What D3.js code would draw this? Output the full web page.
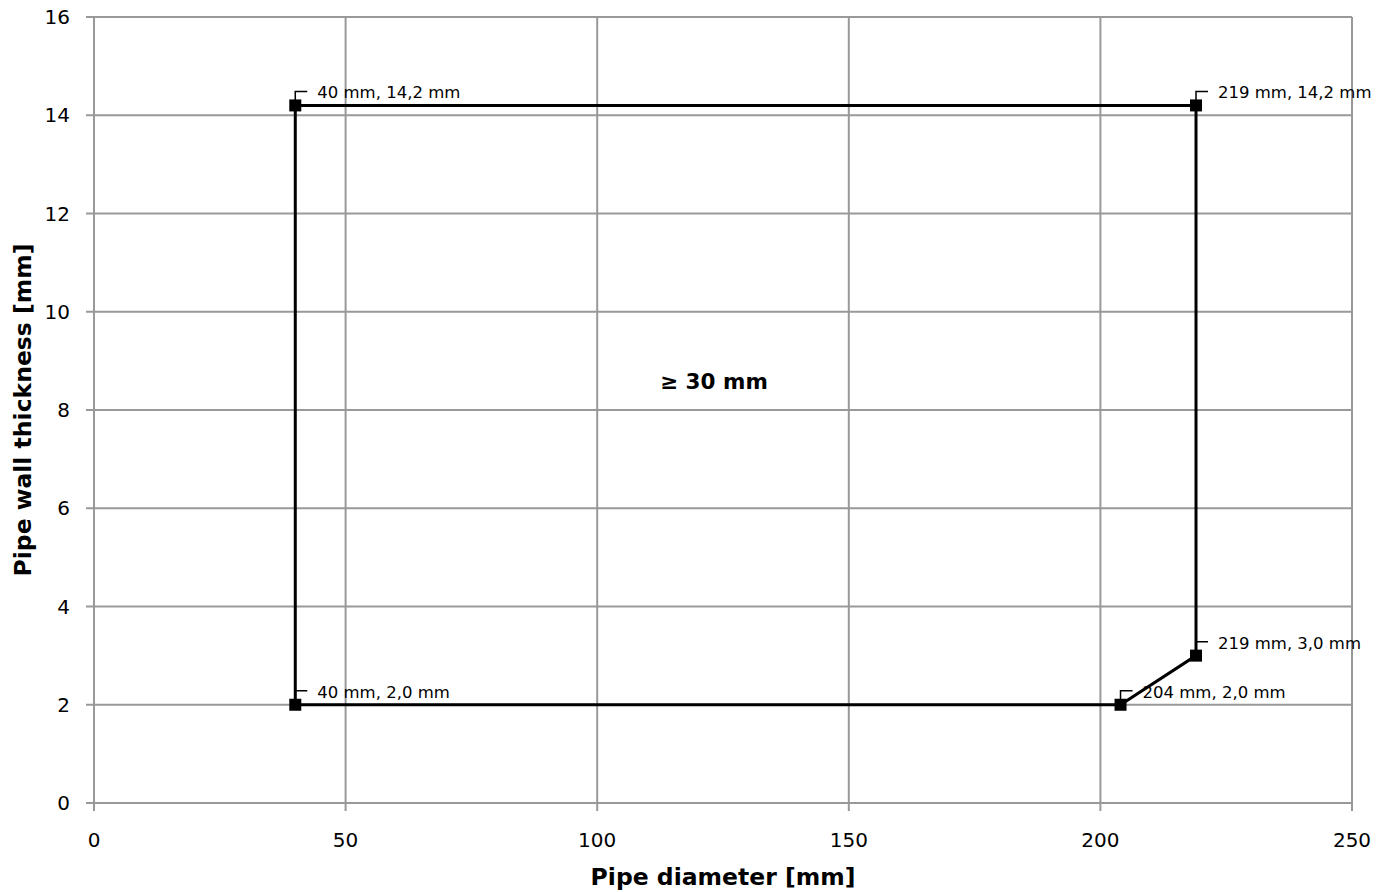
<!DOCTYPE html>
<html><head><meta charset="utf-8">
<script src="https://cdn.jsdelivr.net/npm/d3@7"></script>
<style>body{margin:0;background:#fff}svg{display:block}</style>
</head><body>
<svg id="c" width="1390" height="892"></svg>
<script>
const diameters = [40, 40, 219, 219, 204, 40];
const thicknesses = [2.0, 14.2, 14.2, 3.0, 2.0, 2.0];
const pointLabels = ["40 mm, 2,0 mm", "40 mm, 14,2 mm", "219 mm, 14,2 mm", "219 mm, 3,0 mm", "204 mm, 2,0 mm"];
const xTicks = [0, 50, 100, 150, 200, 250];
const yTicks = [0, 2, 4, 6, 8, 10, 12, 14, 16];
const regionNote = {text: "≥ 30 mm", x: 123.2, y: 8.6};
const xTitle = "Pipe diameter [mm]";
const yTitle = "Pipe wall thickness [mm]";

const font = "'DejaVu Sans', Verdana, sans-serif";
const svg = d3.select("#c");
const L = 94, R = 1352, T = 17, B = 803;
const x = d3.scaleLinear().domain([0, 250]).range([L, R]);
const y = d3.scaleLinear().domain([0, 16]).range([B, T]);
const grid = "#999";

const g = svg.append("g");
g.selectAll(".gx").data(xTicks).enter().append("line")
  .attr("x1", d => x(d)).attr("x2", d => x(d)).attr("y1", T).attr("y2", B + 8)
  .attr("stroke", grid).attr("stroke-width", 2);
g.selectAll(".gy").data(yTicks).enter().append("line")
  .attr("x1", L - 8).attr("x2", R).attr("y1", d => y(d)).attr("y2", d => y(d))
  .attr("stroke", grid).attr("stroke-width", 2);

g.selectAll(".tx").data(xTicks).enter().append("text")
  .attr("x", d => x(d)).attr("y", 847).attr("text-anchor", "middle")
  .attr("font-family", font).attr("font-size", 20).attr("fill", "#000").text(d => d);
g.selectAll(".ty").data(yTicks).enter().append("text")
  .attr("x", 70).attr("y", d => y(d) + 7).attr("text-anchor", "end")
  .attr("font-family", font).attr("font-size", 20).attr("fill", "#000").text(d => d);

svg.append("text").attr("x", x(125)).attr("y", 885).attr("text-anchor", "middle")
  .attr("font-family", font).attr("font-weight", "bold").attr("font-size", 23.5).text(xTitle);
svg.append("text").attr("transform", `translate(31,${(T + B) / 2}) rotate(-90)`).attr("text-anchor", "middle")
  .attr("font-family", font).attr("font-weight", "bold").attr("font-size", 23.5).text(yTitle);

const pts = diameters.map((d, i) => [d, thicknesses[i]]);
const line = d3.line().x(d => x(d[0])).y(d => y(d[1]));
svg.append("path").attr("d", line(pts)).attr("fill", "none")
  .attr("stroke", "#000").attr("stroke-width", 3).attr("stroke-linejoin", "miter");

const uniq = pts.slice(0, 5);
svg.selectAll(".m").data(uniq).enter().append("rect")
  .attr("x", d => x(d[0]) - 6).attr("y", d => y(d[1]) - 6)
  .attr("width", 12).attr("height", 12).attr("fill", "#000");

uniq.forEach((d, i) => {
  const px = x(d[0]), py = y(d[1]);
  svg.append("path").attr("d", `M${px},${py} V${py - 14} H${px + 12}`)
    .attr("fill", "none").attr("stroke", "#000").attr("stroke-width", 1.5);
  svg.append("text").attr("x", px + 22).attr("y", py - 7)
    .attr("font-family", font).attr("font-size", 16.5).attr("fill", "#000").text(pointLabels[i]);
});

svg.append("text").attr("x", x(regionNote.x)).attr("y", y(regionNote.y) + 8).attr("text-anchor", "middle")
  .attr("font-family", font).attr("font-weight", "bold").attr("font-size", 21.5).text(regionNote.text);
</script>
</body></html>
